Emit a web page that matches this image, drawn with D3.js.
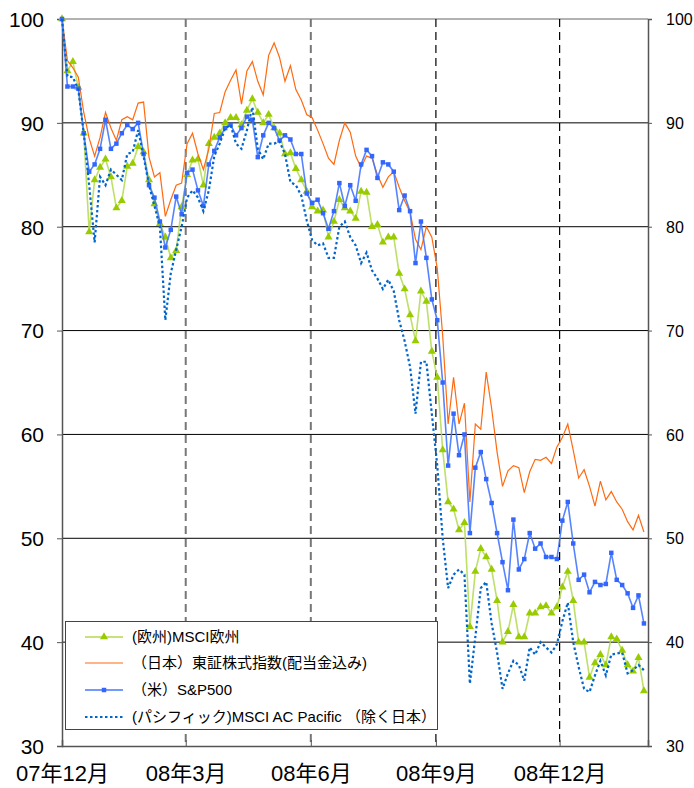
<!DOCTYPE html>
<html><head><meta charset="utf-8">
<script src="https://cdn.jsdelivr.net/npm/d3@7"></script>
<style>
body{margin:0;background:#fff}
svg text{font-family:"Liberation Sans",Arial,"Noto Sans CJK JP",sans-serif;fill:#000}
</style>
</head><body>
<svg id="chart" width="694" height="788"></svg>
<script>
// ---- data ----
const startDate = "2007-12-01";
const endDate = "2009-02-04";
const stepDays = 4;
const europe = [
100,95,95.9,93.4,89,79.5,84.5,85.7,86.5,84.8,
81.8,82.5,85.8,86.1,87.7,87.2,84.5,82.2,80.3,79,
77,77.7,81.9,85,86.4,86.5,84,88,88.6,89,
90,90.5,90.5,89.8,91.2,92.3,91,90,90.8,89.5,
89,87,87.1,85.6,84.5,83.4,81.9,81.5,81.6,79,
80.5,82.6,81.8,81.5,80.8,83.4,83.3,80,80.2,78.5,
79,79,75.5,74,71.5,69,73.8,72.8,68,65.5,
58.5,53.5,52.8,50.8,51.5,41.5,46.8,49,48.2,47,
44,40,41,43.6,40.5,40.5,42.8,42.8,43.4,43.5,
42.8,43.4,45.3,46.8,44,40,40,36.6,38,38.8,
37.8,40.5,40.3,39.2,37.8,37.2,38.5,35.3];
const topix = [
100,96,95.3,94.4,91,88.5,86.8,88.6,91,89.5,
88.3,90.3,90.6,90.3,91.9,92,86.7,84.8,85.2,81,
82.6,84,84.2,88,89,87,85.5,87.5,90.9,91,
93,94.1,95.1,91.8,95,95.9,94,92.7,96.5,97.7,
96.3,94,95.5,93.2,92.2,90.8,90.5,89.3,88,86.6,
86,88.3,90,89.1,86.8,85.7,86.8,86.6,85,83.8,
84.8,85.3,83.8,82.5,81.4,78.8,77.8,80,79,76,
69.5,61,65.5,61,63,53.5,61,60.5,66,62.5,
58.3,55,56.5,57,56.8,54.4,56.4,57.6,57.5,57.8,
57.2,58.8,59.7,61,58.5,55.8,56.6,55,53.1,55.5,
53.7,54.5,53.5,52.8,51.6,50.8,52.2,50.6];
const sp500 = [
100,93.5,93.5,93.3,89,85.3,86,87.5,90.3,87.5,
88,89,89.8,89.4,90,87,84,82.8,80.5,78,
79.7,82.9,81.2,85.2,85.5,83.5,82,86,87.3,88.6,
89.5,89.8,88.8,89.5,90.6,90.3,86.7,88.8,90,89.5,
88.3,88.8,88.4,87,87,83.2,82.3,82.6,81.3,79.8,
81.5,84.2,82,84,82.5,86,87.4,86.8,84.7,86.2,
86,85.3,81.6,83,81.5,76.5,80.5,77,73,71,
65,57,62,58,60,50.5,56.8,58.3,55.7,53.4,
50.5,47.7,45,51.8,47,48,50.5,49,49.5,48.2,
48.2,48,51.7,53.5,49.5,46,46.5,44.8,45.8,45.5,
45.6,48.6,46,45.5,44.7,43.3,44.5,41.8];
const pacific = [
100,94.5,94.4,93.2,89,84,78.5,84.8,84,85.5,
85,84.5,87,87.2,89.3,86.8,84,82,80,71,
75.5,77.8,80,82.8,83.5,82.8,81.5,83.5,86.8,88,
89.5,89.8,88,87.5,89.3,91.5,87.5,86.5,88,88,
88.2,87,84.3,84,83,80.6,78.7,78.2,78.4,77,
77,80,80.5,79,78.2,76.5,77.5,75.8,75,74,
74.9,73.8,71,69,66.5,62,67,67,62,57,
50,45.2,46.5,47,46.5,36,40.5,45.2,45.8,41.8,
39,35.5,37,38.2,37.8,36.3,39.5,38.8,40,39.5,
39,39.8,42,43.8,40,37.6,35.5,35.2,36.8,38.2,
36.8,38.8,38.9,39,37,37.3,37.8,37.3];
const yTicks = [30,40,50,60,70,80,90,100];
const monthTicks = ["2007-12-01","2008-03-01","2008-06-01","2008-09-01","2008-12-01"];
const monthLabels = ["07年12月","08年3月","08年6月","08年9月","08年12月"];
const seriesNames = ["(欧州)MSCI欧州","（日本）東証株式指数(配当金込み)","（米）S&P500","(パシフィック)MSCI AC Pacific （除く日本）"];

// ---- chart ----
const svg = d3.select("#chart");
const L = 62, R = 648, T = 19, B = 746;
const parse = d3.utcParse("%Y-%m-%d");
const x = d3.scaleUtc().domain([parse(startDate), parse(endDate)]).range([L, R]);
const y = d3.scaleLinear().domain([30, 100]).range([B, T]);
const dates = europe.map((_, i) => d3.utcDay.offset(parse(startDate), i * stepDays));

// gridlines
svg.append("g").selectAll("line").data(yTicks.filter(v => v > 30 && v < 100)).join("line")
  .attr("x1", L).attr("x2", R).attr("y1", d => y(d)).attr("y2", d => y(d))
  .attr("stroke", "#000").attr("stroke-width", 1);
svg.append("line").attr("x1", L).attr("x2", R).attr("y1", y(100)).attr("y2", y(100))
  .attr("stroke", "#999").attr("stroke-width", 1.5);

// dashed month lines
svg.append("g").selectAll("line").data(monthTicks.slice(1)).join("line")
  .attr("x1", d => x(parse(d))).attr("x2", d => x(parse(d)))
  .attr("y1", T).attr("y2", B)
  .attr("stroke", (d, i) => i < 2 ? "#777" : "#000")
  .attr("stroke-width", (d, i) => i < 2 ? 2 : 1.2)
  .attr("stroke-dasharray", "8,5");

// axes
const leftAxis = d3.axisLeft(y).tickValues(yTicks).tickSize(5).tickFormat(d3.format("d"));
const gl = svg.append("g").attr("transform", `translate(${L},0)`).call(leftAxis);
gl.select(".domain").attr("stroke", "#555").attr("stroke-width", 1.5);
gl.selectAll(".tick line").attr("stroke", "#555");
gl.selectAll("text").attr("font-size", 21).attr("x", -18).attr("dy", "0.35em");

const rightAxis = d3.axisRight(y).tickValues(yTicks).tickSize(4).tickFormat(d3.format("d"));
const gr = svg.append("g").attr("transform", `translate(${R},0)`).call(rightAxis);
gr.select(".domain").attr("stroke", "#555").attr("stroke-width", 1.5);
gr.selectAll(".tick line").attr("stroke", "#555");
gr.selectAll("text").attr("font-size", 16).attr("x", 18).attr("dy", "0.35em");

const bottomAxis = d3.axisBottom(x).tickValues(monthTicks.map(parse)).tickSize(-6)
  .tickFormat((d, i) => monthLabels[i]);
const gb = svg.append("g").attr("transform", `translate(0,${B})`).call(bottomAxis);
gb.select(".domain").attr("stroke", "#555").attr("stroke-width", 1.5);
gb.selectAll(".tick line").attr("stroke", "#555");
gb.selectAll("text").attr("font-size", 22).attr("y", 19).attr("dy", "0.71em");

// series
const line = d3.line().x((d, i) => x(dates[i])).y(d => y(d));
const tri = d3.symbol().type(d3.symbolTriangle).size(28);
const sq = d3.symbol().type(d3.symbolSquare).size(20);

// Europe
svg.append("path").datum(europe).attr("d", line).attr("fill", "none")
  .attr("stroke", "#b3d94d").attr("stroke-width", 1.6).attr("stroke-opacity", 0.85);
svg.append("g").selectAll("path").data(europe).join("path")
  .attr("d", tri).attr("transform", (d, i) => `translate(${x(dates[i])},${y(d)})`)
  .attr("fill", "#99cc00");
// Topix
svg.append("path").datum(topix).attr("d", line).attr("fill", "none")
  .attr("stroke", "#ff6a10").attr("stroke-width", 1.2);
// S&P
svg.append("path").datum(sp500).attr("d", line).attr("fill", "none")
  .attr("stroke", "#4477ff").attr("stroke-width", 1.6).attr("stroke-opacity", 0.9);
svg.append("g").selectAll("path").data(sp500).join("path")
  .attr("d", sq).attr("transform", (d, i) => `translate(${x(dates[i])},${y(d)})`)
  .attr("fill", "#3366ff");
// Pacific
svg.append("path").datum(pacific).attr("d", line).attr("fill", "none")
  .attr("stroke", "#0066cc").attr("stroke-width", 2.2).attr("stroke-dasharray", "2.5,2.5");

// legend
const lg = svg.append("g");
lg.append("rect").attr("x", 65.5).attr("y", 621.5).attr("width", 372).attr("height", 108)
  .attr("fill", "#fff").attr("stroke", "#444").attr("stroke-width", 1);
const rows = [637, 663, 690, 717];
const lx1 = 85, lx2 = 123;
seriesNames.forEach((name, i) => {
  const yy = rows[i];
  const l = lg.append("line").attr("x1", lx1).attr("x2", lx2).attr("y1", yy).attr("y2", yy);
  if (i === 0) {
    l.attr("stroke", "#b3d94d").attr("stroke-width", 1.6);
    lg.append("path").attr("d", tri).attr("transform", `translate(${(lx1+lx2)/2},${yy})`).attr("fill", "#99cc00");
  } else if (i === 1) {
    l.attr("stroke", "#ff6a10").attr("stroke-width", 1.2);
  } else if (i === 2) {
    l.attr("stroke", "#4477ff").attr("stroke-width", 1.6);
    lg.append("path").attr("d", sq).attr("transform", `translate(${(lx1+lx2)/2},${yy})`).attr("fill", "#3366ff");
  } else {
    l.attr("stroke", "#0066cc").attr("stroke-width", 2.2).attr("stroke-dasharray", "2.5,2.5");
  }
  lg.append("text").attr("x", 132).attr("y", yy).attr("dy", "0.36em")
    .attr("font-size", 15).text(name);
});
</script>
</body></html>
